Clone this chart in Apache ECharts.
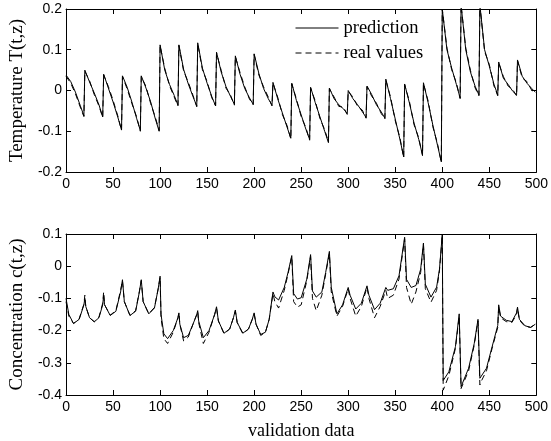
<!DOCTYPE html>
<html>
<head>
<meta charset="utf-8">
<script src="https://cdn.jsdelivr.net/npm/echarts@6/dist/echarts.min.js"></script>
<style>html,body{margin:0;padding:0;background:#fff;}#chart{width:551px;height:441px;}</style>
</head>
<body>
<div id="chart"></div>
<script>
// ---- Temperature T(t,z) (top panel) ----
const tempX = [
  0,5,10,15,19,  20,25,30,35,39,  40,45,50,55,59,  60,65,70,75,79,  80,85,90,95,99,
  100,105,110,115,119,  120,125,130,135,139,  140,145,150,155,159,  160,165,170,175,179,  180,185,190,195,199,
  200,205,210,215,219,  220,225,230,235,239,  240,245,250,255,259,  260,265,270,275,279,  280,285,290,295,299,
  300,305,310,315,319,  320,325,330,335,339,  340,345,350,355,359,  360,365,370,375,379,  380,385,390,395,399,
  400,405,410,415,419,  420,425,430,435,439,  440,445,450,455,459,  460,465,470,475,479,  480,485,490,495,499
];
const tempPred = [
  0.038,0.022,-0.004,-0.036,-0.062,   0.050,0.021,-0.006,-0.035,-0.065,   0.040,0.006,-0.028,-0.065,-0.097,
  0.036,0.008,-0.028,-0.068,-0.098,   0.036,0.006,-0.028,-0.070,-0.100,
  0.112,0.050,0.015,-0.012,-0.036,    0.112,0.052,0.016,-0.015,-0.038,    0.117,0.055,0.018,-0.015,-0.038,
  0.094,0.045,0.010,-0.015,-0.034,    0.085,0.040,0.005,-0.018,-0.034,
  0.090,0.042,0.005,-0.020,-0.036,    0.020,-0.020,-0.055,-0.090,-0.117,  0.018,-0.025,-0.060,-0.095,-0.120,
  0.008,-0.030,-0.065,-0.100,-0.128,  0.006,-0.020,-0.035,-0.045,-0.057,
  0.000,-0.020,-0.035,-0.052,-0.066,  0.011,-0.010,-0.035,-0.052,-0.068,  0.028,-0.020,-0.070,-0.120,-0.163,
  0.016,-0.030,-0.080,-0.120,-0.158,  0.019,-0.030,-0.085,-0.135,-0.175,
  0.200,0.100,0.055,0.015,-0.018,     0.210,0.100,0.045,0.010,-0.011,     0.210,0.100,0.060,0.015,-0.011,
  0.070,0.030,0.015,-0.002,-0.011,    0.075,0.035,0.018,0.005,-0.004
];
const tempReal = [
  0.035,0.018,-0.008,-0.040,-0.064,   0.047,0.024,-0.010,-0.038,-0.066,   0.038,0.010,-0.024,-0.062,-0.098,
  0.034,0.004,-0.032,-0.064,-0.100,   0.034,0.010,-0.032,-0.066,-0.098,
  0.110,0.054,0.012,-0.016,-0.038,    0.110,0.048,0.020,-0.012,-0.040,    0.115,0.051,0.022,-0.018,-0.037,
  0.092,0.049,0.006,-0.012,-0.036,    0.083,0.044,0.009,-0.021,-0.035,
  0.088,0.038,0.009,-0.016,-0.038,    0.018,-0.016,-0.059,-0.086,-0.119,  0.016,-0.021,-0.064,-0.091,-0.122,
  0.006,-0.026,-0.069,-0.096,-0.126,  0.004,-0.016,-0.039,-0.041,-0.059,
  -0.002,-0.016,-0.039,-0.048,-0.068, 0.009,-0.014,-0.031,-0.056,-0.070,  0.026,-0.016,-0.074,-0.116,-0.165,
  0.014,-0.026,-0.084,-0.116,-0.160,  0.017,-0.026,-0.089,-0.131,-0.177,
  0.200,0.104,0.051,0.019,-0.020,     0.210,0.104,0.049,0.006,-0.013,     0.210,0.096,0.064,0.011,-0.013,
  0.068,0.034,0.011,0.002,-0.013,     0.073,0.031,0.022,0.001,-0.006
];

// ---- Concentration c(t,z) (bottom panel) ----
const concX = [
  0,3,8,14,19,  20,21,25,30,35,39,  40,41,47,53,58,  60,62,68,74,78,  80,82,88,94,98,
  100,101,104,108,114,119,  120,121,125,130,135,139,  140,141,146,152,158,  160,162,168,174,178,  180,182,188,194,198,
  200,202,207,212,216,  220,222,226,232,236,  240,242,246,250,256,  260,262,266,272,276,
  280,282,288,294,  300,302,308,314,  320,322,328,334,  340,342,348,354,
  360,362,367,372,377,  380,382,388,394,397,
  400,401,407,414,418,  420,421,428,434,438,  440,441,447,453,459,  460,462,468,474,479,  480,482,488,494,499
];
const concPred = [
  -0.100,-0.150,-0.178,-0.165,-0.120,
  -0.100,-0.125,-0.160,-0.173,-0.160,-0.120,
  -0.090,-0.120,-0.153,-0.140,-0.080,
  -0.042,-0.110,-0.153,-0.140,-0.080,
  -0.042,-0.110,-0.148,-0.130,-0.070,
  -0.031,-0.150,-0.210,-0.225,-0.200,-0.160,
  -0.145,-0.180,-0.222,-0.215,-0.180,-0.150,
  -0.138,-0.170,-0.222,-0.200,-0.150,
  -0.126,-0.170,-0.208,-0.195,-0.160,
  -0.136,-0.175,-0.208,-0.195,-0.165,
  -0.145,-0.180,-0.212,-0.205,-0.165,
  -0.080,-0.095,-0.105,-0.066,-0.020,
  0.033,-0.085,-0.102,-0.098,-0.040,
  0.036,-0.077,-0.096,-0.080,-0.020,
  0.046,-0.066,-0.148,-0.120,
  -0.066,-0.090,-0.133,-0.115,
  -0.061,-0.090,-0.135,-0.115,
  -0.066,-0.075,-0.070,-0.030,
  0.090,-0.041,-0.066,-0.060,-0.010,
  0.072,-0.056,-0.096,-0.065,-0.010,
  0.098,-0.355,-0.328,-0.250,-0.148,
  -0.374,-0.370,-0.317,-0.240,-0.165,
  -0.348,-0.345,-0.317,-0.250,-0.184,
  -0.120,-0.155,-0.168,-0.172,-0.145,
  -0.127,-0.165,-0.185,-0.190,-0.180
];
const concReal = [
  -0.110,-0.155,-0.178,-0.163,-0.118,
  -0.090,-0.125,-0.160,-0.172,-0.158,-0.115,
  -0.080,-0.120,-0.152,-0.138,-0.075,
  -0.045,-0.110,-0.153,-0.138,-0.078,
  -0.045,-0.110,-0.148,-0.128,-0.070,
  -0.035,-0.160,-0.225,-0.240,-0.205,-0.160,
  -0.145,-0.180,-0.232,-0.220,-0.180,-0.150,
  -0.140,-0.175,-0.240,-0.205,-0.150,
  -0.130,-0.170,-0.210,-0.195,-0.160,
  -0.140,-0.175,-0.210,-0.195,-0.165,
  -0.148,-0.180,-0.215,-0.205,-0.165,
  -0.085,-0.110,-0.130,-0.075,-0.025,
  0.030,-0.110,-0.127,-0.120,-0.045,
  0.030,-0.100,-0.138,-0.090,-0.025,
  0.040,-0.080,-0.155,-0.125,
  -0.070,-0.100,-0.155,-0.125,
  -0.065,-0.100,-0.160,-0.125,
  -0.075,-0.100,-0.090,-0.040,
  0.085,-0.066,-0.118,-0.080,-0.020,
  0.068,-0.070,-0.112,-0.075,-0.015,
  0.095,-0.385,-0.340,-0.255,-0.155,
  -0.380,-0.378,-0.325,-0.245,-0.170,
  -0.369,-0.360,-0.325,-0.255,-0.190,
  -0.125,-0.160,-0.172,-0.175,-0.150,
  -0.130,-0.168,-0.187,-0.190,-0.180
];

const seriesNames = ['prediction', 'real values'];
const xLabel = 'validation data';
const yLabelTop = 'Temperature T(t,z)';
const yLabelBottom = 'Concentration c(t,z)';

const SANS = 'Liberation Sans';
const SERIF = 'Liberation Serif';
const BLACK = '#000';

function pairs(xs, ys) { return xs.map((x, i) => [x, ys[i]]); }
const fmt = v => String(Number(v.toFixed(1)));

function xAx(grid, pos, showLabel, extra) {
  return Object.assign({
    gridIndex: grid, type: 'value', position: pos, min: 0, max: 500, interval: 50,
    axisLine: { show: true, onZero: false, lineStyle: { color: BLACK, width: 1 } },
    axisTick: { show: true, inside: true, length: 5, lineStyle: { color: BLACK, width: 1 } },
    axisLabel: { show: showLabel, color: BLACK, fontFamily: SANS, fontSize: 14, margin: 5 },
    splitLine: { show: false }
  }, extra || {});
}
function yAx(grid, pos, min, max, showLabel, extra) {
  return Object.assign({
    gridIndex: grid, type: 'value', position: pos, min: min, max: max, interval: 0.1,
    axisLine: { show: true, onZero: false, lineStyle: { color: BLACK, width: 1 } },
    axisTick: { show: true, inside: true, length: 5, lineStyle: { color: BLACK, width: 1 } },
    axisLabel: { show: showLabel, color: BLACK, fontFamily: SANS, fontSize: 14, margin: 4, formatter: fmt },
    splitLine: { show: false }
  }, extra || {});
}
const yName = (n) => ({
  name: n, nameLocation: 'middle', nameGap: 35, nameRotate: 90,
  nameTextStyle: { color: BLACK, fontFamily: SERIF, fontSize: 19 }
});

const chart = echarts.init(document.getElementById('chart'), null, { renderer: 'canvas' });
chart.setOption({
  animation: false,
  backgroundColor: '#fff',
  grid: [
    { left: 62, top: 9, width: 477, height: 163 },
    { left: 62, top: 234, width: 477, height: 163 }
  ],
  legend: {
    data: seriesNames, orient: 'vertical', left: 295, top: 18, padding: 0,
    itemWidth: 43, itemHeight: 10, itemGap: 5,
    itemStyle: { color: 'rgba(0,0,0,0)', borderWidth: 0, opacity: 0 },
    lineStyle: { width: 1, color: BLACK },
    textStyle: { color: BLACK, fontFamily: SERIF, fontSize: 18.5, lineHeight: 20 },
    selectedMode: false
  },
  xAxis: [
    xAx(0, 'bottom', true),
    xAx(0, 'top', false),
    xAx(1, 'bottom', true, { name: xLabel, nameLocation: 'middle', nameGap: 27,
      nameTextStyle: { color: BLACK, fontFamily: SERIF, fontSize: 18 } }),
    xAx(1, 'top', false)
  ],
  yAxis: [
    yAx(0, 'left', -0.2, 0.2, true, yName(yLabelTop)),
    yAx(0, 'right', -0.2, 0.2, false),
    yAx(1, 'left', -0.4, 0.1, true, yName(yLabelBottom)),
    yAx(1, 'right', -0.4, 0.1, false)
  ],
  series: [
    { name: seriesNames[1], type: 'line', xAxisIndex: 0, yAxisIndex: 0, data: pairs(tempX, tempReal),
      symbol: 'none', lineStyle: { color: BLACK, width: 1, type: [6, 4] }, itemStyle: { color: BLACK } },
    { name: seriesNames[0], type: 'line', xAxisIndex: 0, yAxisIndex: 0, data: pairs(tempX, tempPred),
      symbol: 'none', lineStyle: { color: BLACK, width: 1 }, itemStyle: { color: BLACK } },
    { name: seriesNames[1], type: 'line', xAxisIndex: 2, yAxisIndex: 2, data: pairs(concX, concReal),
      symbol: 'none', lineStyle: { color: BLACK, width: 1, type: [6, 4] }, itemStyle: { color: BLACK } },
    { name: seriesNames[0], type: 'line', xAxisIndex: 2, yAxisIndex: 2, data: pairs(concX, concPred),
      symbol: 'none', lineStyle: { color: BLACK, width: 1 }, itemStyle: { color: BLACK } }
  ]
});
</script>
</body>
</html>
